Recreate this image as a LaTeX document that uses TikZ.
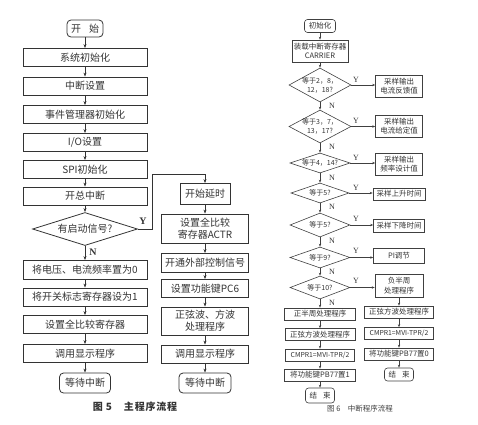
\documentclass[tikz,border=0pt]{standalone}
\usepackage{fontspec}
\newfontfamily\cjk{Noto Sans CJK SC}
\newfontfamily\cjkcap[LetterSpace=8]{Noto Sans CJK SC}
\newfontfamily\lat{Liberation Serif}
\usetikzlibrary{shapes.geometric,arrows.meta}
\begin{document}
\begin{tikzpicture}[x=1pt,y=-1pt,
 box/.style={draw=black!80, line width=0.8pt, inner sep=1pt, align=center, font=\cjk\fontsize{10}{12}\selectfont, text=black!80, minimum height=18pt},
 lbox/.style={box, minimum width=124pt},
 mbox/.style={box, minimum width=87pt},
 term/.style={box, rounded corners=4pt},
 ltxt/.style={font=\cjk\fontsize{10}{12}\selectfont, text=black!80, align=center, inner sep=0pt},
 arr/.style={draw=black!80, line width=0.8pt, -{Stealth[length=4pt,width=3pt]}},
 yn/.style={font=\lat\bfseries\fontsize{10}{10}\selectfont, text=black!80, inner sep=0pt},
 sbox/.style={draw=black!75, line width=0.6pt, inner sep=1pt, align=center, font=\cjk\fontsize{7.5}{9.5}\selectfont, text=black!80},
 stxt/.style={font=\cjk\fontsize{7}{9}\selectfont, text=black!80, align=center, inner sep=0pt},
 sarr/.style={draw=black!75, line width=0.6pt, -{Stealth[length=3pt,width=2.4pt]}},
 syn/.style={font=\lat\fontsize{8}{8}\selectfont, text=black!80, inner sep=0pt},
 sdia/.style={diamond, draw=black!75, line width=0.6pt, inner sep=0pt},
]
\useasboundingbox (0,0) rectangle (478,424);

% ---------- Figure 5 : left column ----------
\node[term, minimum width=36pt, minimum height=17pt] (start) at (85,28.5) {开\hspace{0.8em}始};
\node[lbox] (s1) at (85,57.5) {系统初始化};
\node[lbox] (s2) at (85,86) {中断设置};
\node[lbox] (s3) at (85,114.5) {事件管理器初始化};
\node[lbox] (s4) at (85,142.5) {I/O设置};
\node[lbox] (s5) at (85,169.5) {SPI初始化};
\node[lbox] (s6) at (85,196) {开总中断};
\node[diamond, draw=black!80, line width=0.8pt, inner sep=0pt, minimum width=105pt, minimum height=33pt,
      label={[ltxt]center:有启动信号?}] (dia) at (85,229) {};
\node[lbox, minimum height=19pt] (s7) at (85,270) {将电压、电流频率置为0};
\node[lbox] (s8) at (85,297) {将开关标志寄存器设为1};
\node[lbox] (s9) at (85,324.5) {设置全比较寄存器};
\node[lbox] (s10) at (85,353.5) {调用显示程序};
\node[term, minimum width=51pt, minimum height=20pt] (e1) at (85,383) {等待中断};

% ---------- Figure 5 : middle column ----------
\node[box, minimum width=50pt, minimum height=21pt] (t1) at (205,194) {开始延时};
\node[mbox, minimum height=29pt] (t2) at (205,228.5) {设置全比较\\寄存器ACTR};
\node[mbox, minimum height=19pt] (t3) at (205,263) {开通外部控制信号};
\node[mbox] (t4) at (205,288.5) {设置功能键PC6};
\node[mbox, minimum height=28pt] (t5) at (205,321) {正弦波、方波\\处理程序};
\node[mbox] (t6) at (205,354) {调用显示程序};
\node[term, minimum width=52pt, minimum height=20pt] (e2) at (205,383) {等待中断};

\draw[arr] (start) -- (s1);
\draw[arr] (s1) -- (s2);
\draw[arr] (s2) -- (s3);
\draw[arr] (s3) -- (s4);
\draw[arr] (s4) -- (s5);
\draw[arr] (s5) -- (s6);
\draw[arr] (s6) -- (dia);
\draw[arr] (dia.south) -- (s7);
\draw[arr] (s7) -- (s8);
\draw[arr] (s8) -- (s9);
\draw[arr] (s9) -- (s10);
\draw[arr] (s10) -- (e1);
\coordinate (yc) at (152,174);
\draw[arr] (dia.east) -| (yc) -| (t1.north);
\draw[arr] (t1) -- (t2);
\draw[arr] (t2) -- (t3);
\draw[arr] (t3) -- (t4);
\draw[arr] (t4) -- (t5);
\draw[arr] (t5) -- (t6);
\draw[arr] (t6) -- (e2);
\node[yn] (ly) at (143,221) {Y};
\node[yn] (lnn) at (93,252) {N};

\node[font=\cjkcap\bfseries\fontsize{10}{10}\selectfont, text=black!80, inner sep=0pt] (cap5) at (135,407) {图 5\hspace{1.2em}主程序流程};

% ---------- Figure 6 ----------
\node[sbox, rounded corners=3pt, minimum width=31pt, minimum height=13pt] (ini) at (320,26) {初始化};
\node[sbox, minimum width=56pt, minimum height=22pt] (car) at (320,51) {装载中断寄存器\\CARRIER};

\node[sdia, minimum width=62pt, minimum height=34pt, label={[stxt]center:{等于2，8，\\12，18?}}] (d1) at (320,85) {};
\node[sdia, minimum width=62pt, minimum height=33pt, label={[stxt]center:{等于3，7，\\13，17?}}] (d2) at (320,126.5) {};
\node[sdia, minimum width=60pt, minimum height=20pt, label={[stxt]center:{等于4，14?}}] (d3) at (320,163) {};
\node[sdia, minimum width=58pt, minimum height=20pt, label={[stxt]center:{等于5?}}] (d4) at (320,193) {};
\node[sdia, minimum width=60pt, minimum height=24pt, label={[stxt]center:{等于5?}}] (d5) at (320,225) {};
\node[sdia, minimum width=60pt, minimum height=21pt, label={[stxt]center:{等于9?}}] (d6) at (320,257.5) {};
\node[sdia, minimum width=60pt, minimum height=23pt, label={[stxt]center:{等于10?}}] (d7) at (320,287.5) {};

\node[sbox, minimum width=47pt, minimum height=22pt] (b1) at (399,86) {采样输出\\电流反馈值};
\node[sbox, minimum width=47pt, minimum height=22pt] (b2) at (399,126) {采样输出\\电流给定值};
\node[sbox, minimum width=47pt, minimum height=22pt] (b3) at (399,164) {采样输出\\频率设计值};
\node[sbox, minimum width=52pt, minimum height=12pt] (b4) at (399,194) {采样上升时间};
\node[sbox, minimum width=51pt, minimum height=13pt] (b5) at (399,225.5) {采样下降时间};
\node[sbox, minimum width=51pt, minimum height=15pt] (b6) at (399,255.5) {PI调节};
\node[sbox, minimum width=48pt, minimum height=23pt] (b7) at (399,285.5) {负半周\\处理程序};

\node[sbox, minimum width=71pt, minimum height=12pt] (l1) at (320,314) {正半周处理程序};
\node[sbox, minimum width=70pt, minimum height=12pt] (l2) at (320,334.5) {正弦方波处理程序};
\node[sbox, minimum width=69pt, minimum height=12pt, font=\cjk\fontsize{6.8}{8}\selectfont] (l3) at (320,355) {CMPR1=MVI-TPR/2};
\node[sbox, minimum width=71pt, minimum height=12pt] (l4) at (320,375) {将功能键PB77置1};
\node[sbox, rounded corners=3pt, minimum width=29pt, minimum height=15pt] (l5) at (320,395.5) {结\hspace{0.8em}束};

\node[sbox, minimum width=69pt, minimum height=12pt] (q1) at (399,312) {正弦方波处理程序};
\node[sbox, minimum width=69pt, minimum height=12pt, font=\cjk\fontsize{6.8}{8}\selectfont] (q2) at (399,333.5) {CMPR1=MVI-TPR/2};
\node[sbox, minimum width=69pt, minimum height=12pt] (q3) at (399,354) {将功能键PB77置0};
\node[sbox, rounded corners=3pt, minimum width=29pt, minimum height=13pt] (q4) at (399,374.5) {结\hspace{0.8em}束};

\draw[sarr] (ini) -- (car);
\draw[sarr] (car) -- (d1.north);
\draw[sarr] (d1.south) -- (d2.north);
\draw[sarr] (d2.south) -- (d3.north);
\draw[sarr] (d3.south) -- (d4.north);
\draw[sarr] (d4.south) -- (d5.north);
\draw[sarr] (d5.south) -- (d6.north);
\draw[sarr] (d6.south) -- (d7.north);
\draw[sarr] (d7.south) -- (l1);
\draw[sarr] (l1) -- (l2);
\draw[sarr] (l2) -- (l3);
\draw[sarr] (l3) -- (l4);
\draw[sarr] (l4) -- (l5);
\draw[sarr] (d1.east) -- (d1.east -| b1.west);
\draw[sarr] (d2.east) -- (d2.east -| b2.west);
\draw[sarr] (d3.east) -- (d3.east -| b3.west);
\draw[sarr] (d4.east) -- (d4.east -| b4.west);
\draw[sarr] (d5.east) -- (d5.east -| b5.west);
\draw[sarr] (d6.east) -- (d6.east -| b6.west);
\draw[sarr] (d7.east) -- (d7.east -| b7.west);
\draw[sarr] (b7) -- (q1);
\draw[sarr] (q1) -- (q2);
\draw[sarr] (q2) -- (q3);
\draw[sarr] (q3) -- (q4);

\node[syn] (y1) at (356,80) {Y};
\node[syn] (y2) at (356,121) {Y};
\node[syn] (y3) at (356,158) {Y};
\node[syn] (y4) at (356,188) {Y};
\node[syn] (y5) at (356,219) {Y};
\node[syn] (y6) at (356,251) {Y};
\node[syn] (y7) at (356,281) {Y};
\node[syn] (n1) at (332,106) {N};
\node[syn] (n2) at (332,147) {N};
\node[syn] (n3) at (332,178) {N};
\node[syn] (n4) at (332,207) {N};
\node[syn] (n5) at (332,241) {N};
\node[syn] (n6) at (332,272) {N};
\node[syn] (n7) at (332,303) {N};

\node[font=\cjk\fontsize{7.5}{8}\selectfont, text=black!75, inner sep=0pt] (cap6) at (360,409) {图 6\hspace{1em}中断程序流程};
\end{tikzpicture}
\end{document}
